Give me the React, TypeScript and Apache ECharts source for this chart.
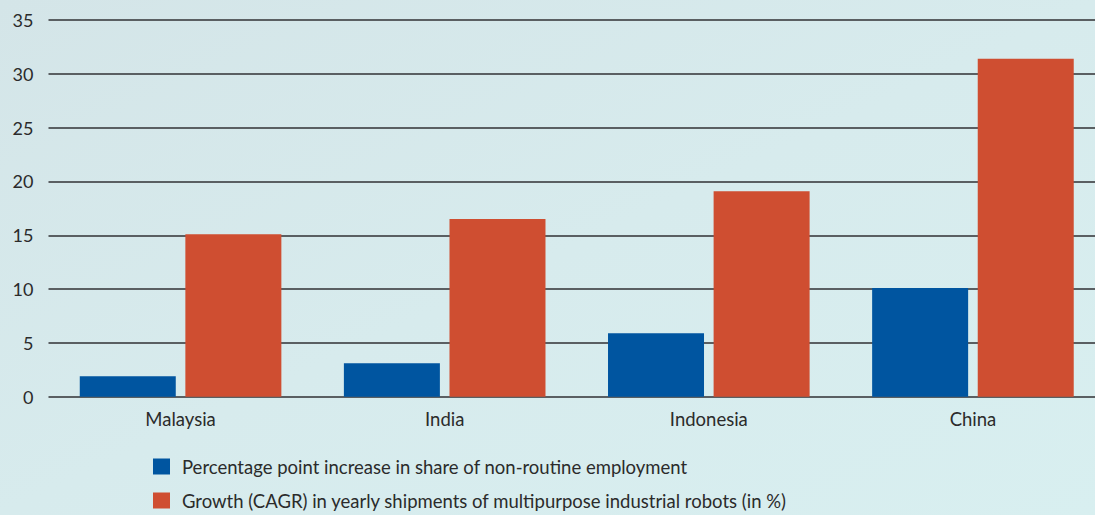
import React, { useEffect, useRef } from "react";
import * as echarts from "echarts";

const categories = ["Malaysia", "India", "Indonesia", "China"];
const nonRoutineShare = [1.9, 3.1, 5.9, 10.1];
const robotGrowth = [15.1, 16.5, 19.1, 31.4];
const seriesNames = [
  "Percentage point increase in share of non-routine employment",
  "Growth (CAGR) in yearly shipments of multipurpose industrial robots (in %)",
];
const yTicks = ["0", "5", "10", "15", "20", "25", "30", "35"];

export default function App() {
  const ref = useRef<HTMLDivElement>(null);
  useEffect(() => {
    if (!ref.current) return;
    document.documentElement.style.overflow = "hidden";
    document.body.style.overflow = "hidden";
    const chart = echarts.init(ref.current, undefined, { renderer: "svg" });
    const font = "Lato, 'Noto Sans', sans-serif";
    const legendText = { fontSize: 18.5, color: "#2b2b2b", fontFamily: font, padding: [0, 0, 0, 7] };
    chart.setOption({
      animation: false,
      backgroundColor: {
        type: "linear",
        x: 0,
        y: 0,
        x2: 1,
        y2: 1,
        colorStops: [
          { offset: 0, color: "#d4e5e8" },
          { offset: 0.5, color: "#d7ebed" },
          { offset: 1, color: "#d8eff0" },
        ],
      },
      textStyle: { fontFamily: font },
      grid: { left: 48.5, top: 20, right: 0, height: 376.7, containLabel: false },
      legend: [
        {
          left: 153,
          top: 457,
          padding: 0,
          itemWidth: 17,
          itemHeight: 16,
          icon: "rect",
          textStyle: legendText,
          data: [seriesNames[0]],
        },
        {
          left: 153,
          top: 491,
          padding: 0,
          itemWidth: 17,
          itemHeight: 16,
          icon: "rect",
          textStyle: legendText,
          data: [seriesNames[1]],
        },
      ],
      xAxis: {
        type: "category",
        data: categories,
        axisLine: { show: false },
        axisTick: { show: false },
        axisLabel: { fontSize: 18.5, color: "#2b2b2b", margin: 13, fontFamily: font },
      },
      yAxis: {
        type: "value",
        min: 0,
        max: 35,
        interval: 5,
        axisLine: { show: false },
        axisTick: { show: false },
        axisLabel: {
          fontSize: 18,
          color: "#2b2b2b",
          margin: 15,
          fontFamily: font,
          formatter: (v: number) => yTicks[Math.round(v / 5)] ?? String(v),
        },
        splitLine: { lineStyle: { color: "#5a5f62", width: 2 } },
      },
      series: [
        {
          name: seriesNames[0],
          type: "bar",
          data: nonRoutineShare,
          barWidth: 96,
          barGap: "10%",
          itemStyle: { color: "#0055a0" },
        },
        {
          name: seriesNames[1],
          type: "bar",
          data: robotGrowth,
          barWidth: 96,
          barGap: "10%",
          itemStyle: { color: "#cf4e31" },
        },
      ],
    });
    return () => chart.dispose();
  }, []);
  return (
    <div
      ref={ref}
      style={{ position: "fixed", left: 0, top: 0, width: 1105, height: 515 }}
    />
  );
}
